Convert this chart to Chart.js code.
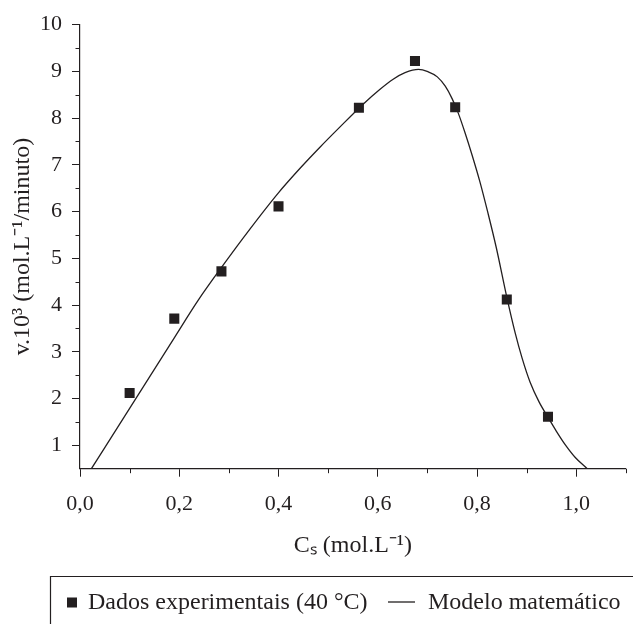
<!DOCTYPE html>
<html>
<head>
<meta charset="utf-8">
<script src="https://cdn.jsdelivr.net/npm/chart.js@4.4.1/dist/chart.umd.min.js"></script>
<style>
html,body{margin:0;padding:0;background:#fff;}
canvas{display:block;}
</style>
</head>
<body>
<canvas id="c" width="633" height="624"></canvas>
<script>
// ---- data ----
const expX = [0.100, 0.190, 0.285, 0.400, 0.562, 0.675, 0.756, 0.860, 0.943];
const expY = [2.12, 3.71, 4.72, 6.11, 8.22, 9.22, 8.23, 4.12, 1.61];

const modelX = [0.023, 0.100, 0.190, 0.238, 0.284, 0.342, 0.399, 0.443, 0.483, 0.524, 0.571, 0.604, 0.631, 0.655, 0.682,
                0.701, 0.720, 0.736, 0.750, 0.762, 0.776, 0.790, 0.806, 0.822, 0.839, 0.860, 0.877, 0.891, 0.907, 0.925,
                0.943, 0.960, 0.978, 0.998, 1.022];
const modelY = [0.50, 1.79, 3.30, 4.10, 4.79, 5.62, 6.39, 6.92, 7.37, 7.81, 8.30, 8.61, 8.83, 8.97, 9.04,
                8.99, 8.88, 8.68, 8.41, 8.11, 7.68, 7.21, 6.63, 5.97, 5.22, 4.17, 3.40, 2.86, 2.35, 1.93,
                1.60, 1.30, 1.01, 0.74, 0.50];

const xTicks = [0, 0.2, 0.4, 0.6, 0.8, 1.0];
const xMinorTicks = [0.1, 0.3, 0.5, 0.7, 0.9, 1.1];
const yTicks = [1, 2, 3, 4, 5, 6, 7, 8, 9, 10];
const yMinorTicks = [1.5, 2.5, 3.5, 4.5, 5.5, 6.5, 7.5, 8.5, 9.5];

const seriesLabels = ['Dados experimentais (40 °C)', 'Modelo matemático'];
const xTitle = 'Cₛ (mol.L⁻¹)';
const yTitle = 'v.10³ (mol.L⁻¹/minuto)';

// ---- styling ----
const INK = '#231f20';
const FONT = "'Liberation Serif', 'Times New Roman', serif";
Chart.defaults.font.family = FONT;
Chart.defaults.color = INK;

const minorTicksPlugin = {
  id: 'minorTicks',
  afterDraw(chart) {
    const {ctx, chartArea: a, scales: {x, y}} = chart;
    ctx.save();
    ctx.strokeStyle = INK;
    ctx.lineWidth = 1;
    ctx.beginPath();
    xMinorTicks.forEach(v => {
      const px = Math.round(x.getPixelForValue(v)) + 0.5;
      ctx.moveTo(px, a.bottom);
      ctx.lineTo(px, a.bottom + 4.5);
    });
    yMinorTicks.forEach(v => {
      const py = Math.round(y.getPixelForValue(v)) + 0.5;
      ctx.moveTo(a.left, py);
      ctx.lineTo(a.left - 4.5, py);
    });
    ctx.stroke();
    ctx.restore();
  }
};

const boxLegendPlugin = {
  id: 'boxLegend',
  afterDraw(chart) {
    const ctx = chart.ctx;
    const ds = chart.data.datasets;
    const cy = 602.5;
    ctx.save();
    // frame (top + left edges, open to the right/bottom as in the reference)
    ctx.strokeStyle = INK;
    ctx.lineWidth = 1.2;
    ctx.beginPath();
    ctx.moveTo(50.5, chart.height);
    ctx.lineTo(50.5, 576.5);
    ctx.lineTo(chart.width, 576.5);
    ctx.stroke();
    // item 1: square marker
    ctx.fillStyle = ds[0].backgroundColor;
    ctx.fillRect(67, cy - 5, 10, 10);
    ctx.font = '24px ' + FONT;
    ctx.textBaseline = 'middle';
    ctx.textAlign = 'left';
    ctx.fillStyle = INK;
    ctx.fillText(ds[0].label, 88, cy);
    // item 2: line
    ctx.strokeStyle = ds[1].borderColor;
    ctx.lineWidth = ds[1].borderWidth;
    ctx.beginPath();
    ctx.moveTo(388, cy - 0.5);
    ctx.lineTo(415, cy - 0.5);
    ctx.stroke();
    ctx.fillText(ds[1].label, 428, cy);
    ctx.restore();
  }
};

new Chart(document.getElementById('c'), {
  type: 'scatter',
  data: {
    datasets: [
      {
        label: seriesLabels[0],
        data: expX.map((x, i) => ({x: x, y: expY[i]})),
        pointStyle: 'rect',
        pointRadius: 7.1,
        pointHoverRadius: 7.1,
        backgroundColor: INK,
        borderColor: INK,
        borderWidth: 0,
        showLine: false
      },
      {
        label: seriesLabels[1],
        data: modelX.map((x, i) => ({x: x, y: modelY[i]})),
        showLine: true,
        pointRadius: 0,
        pointHoverRadius: 0,
        borderColor: INK,
        backgroundColor: INK,
        borderWidth: 1.3,
        cubicInterpolationMode: 'monotone',
        fill: false
      }
    ]
  },
  options: {
    responsive: false,
    animation: false,
    events: [],
    layout: {padding: {left: 0, right: 7, top: 24.5, bottom: 45.3}},
    plugins: {
      legend: {display: false},
      tooltip: {enabled: false}
    },
    scales: {
      x: {
        type: 'linear',
        min: 0,
        max: 1.1,
        afterBuildTicks: s => { s.ticks = xTicks.map(v => ({value: v})); },
        afterFit: s => { s.height = 110; },
        ticks: {
          padding: 14,
          font: {size: 22},
          color: INK,
          callback: v => Number(v).toFixed(1).replace('.', ',')
        },
        grid: {drawOnChartArea: false, drawTicks: true, tickLength: 8, tickColor: INK, tickWidth: 1},
        border: {display: true, color: INK, width: 1.2},
        title: {display: true, text: xTitle, font: {size: 24}, color: INK, padding: {top: 0, bottom: 19}}
      },
      y: {
        type: 'linear',
        min: 0.5,
        max: 10,
        afterBuildTicks: s => { s.ticks = yTicks.map(v => ({value: v})); },
        afterFit: s => { s.width = 80; },
        ticks: {
          padding: 10,
          font: {size: 22},
          color: INK,
          callback: v => String(v)
        },
        grid: {drawOnChartArea: false, drawTicks: true, tickLength: 8, tickColor: INK, tickWidth: 1},
        border: {display: true, color: INK, width: 1.2},
        title: {display: true, text: yTitle, font: {size: 24}, color: INK, padding: {top: 8.5, bottom: 0}}
      }
    }
  },
  plugins: [minorTicksPlugin, boxLegendPlugin]
});
</script>
</body>
</html>
